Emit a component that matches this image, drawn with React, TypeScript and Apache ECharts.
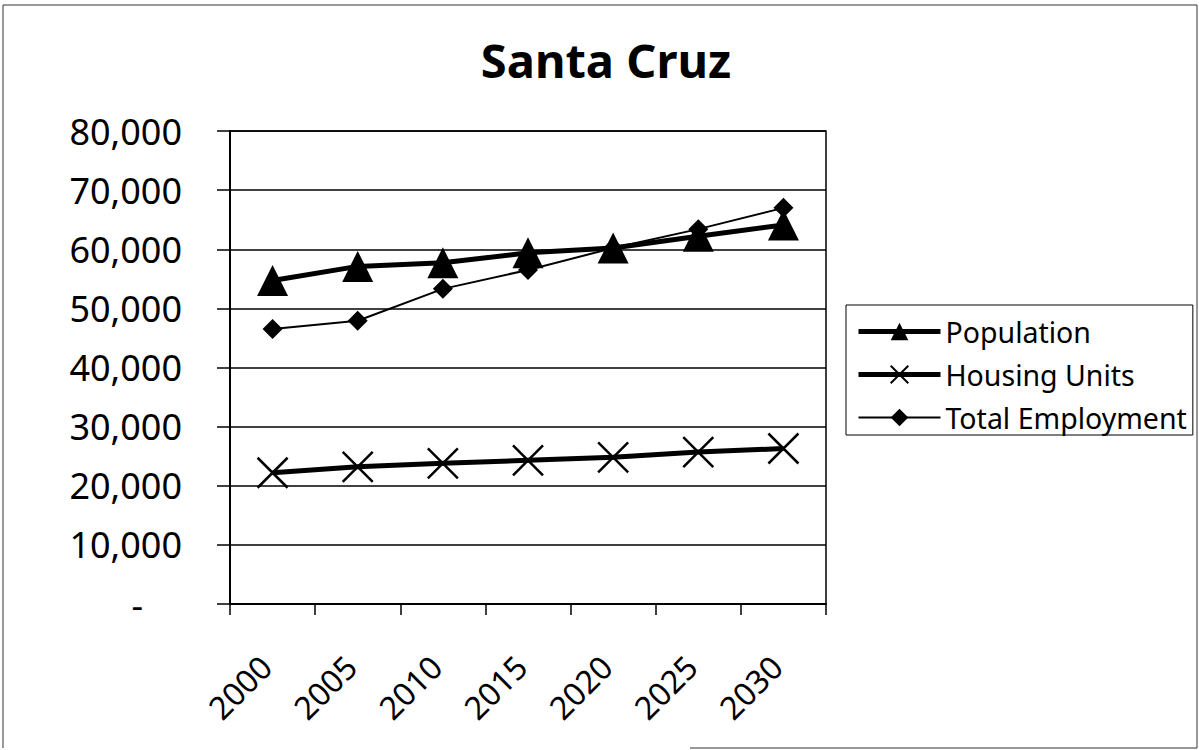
import React, { useEffect, useRef } from "react";
import * as echarts from "echarts";

const categories = ["2000", "2005", "2010", "2015", "2020", "2025", "2030"];
const population = [54700, 57100, 57700, 59400, 60200, 62200, 64100];
const housingUnits = [22200, 23200, 23800, 24300, 24800, 25700, 26300];
const totalEmployment = [46500, 47900, 53300, 56500, 60200, 63400, 67000];
const yTicks = { min: 0, max: 80000, interval: 10000 };

const FONT = "Noto Sans";
const X_PATH = "path://M0,0L10,10M10,0L0,10";

export default function App() {
  const ref = useRef<HTMLDivElement>(null);
  useEffect(() => {
    if (!ref.current) return;
    const chart = echarts.init(ref.current, undefined, { renderer: "svg" });
    chart.setOption({
      animation: false,
      backgroundColor: "#fff",
      textStyle: { fontFamily: FONT, color: "#000" },
      graphic: [
        {
          type: "text",
          x: 606,
          y: 60,
          style: {
            text: "Santa Cruz",
            align: "center",
            verticalAlign: "middle",
            fontFamily: FONT,
            fontWeight: "bold",
            fontSize: 47,
            fill: "#000",
          },
        },
        { type: "line", shape: { x1: 3, y1: 5, x2: 1197, y2: 5 }, style: { stroke: "#333", lineWidth: 1 } },
        { type: "line", shape: { x1: 3, y1: 5, x2: 3, y2: 748 }, style: { stroke: "#333", lineWidth: 1 } },
        { type: "line", shape: { x1: 1197, y1: 5, x2: 1197, y2: 748 }, style: { stroke: "#333", lineWidth: 1 } },
        { type: "line", shape: { x1: 690, y1: 748, x2: 1197, y2: 748 }, style: { stroke: "#333", lineWidth: 1 } },
      ],
      grid: {
        left: 230,
        right: 373,
        top: 131,
        bottom: 146,
        show: true,
        borderColor: "#000",
        borderWidth: 1.5,
      },
      legend: {
        orient: "vertical",
        left: 846,
        top: 305,
        padding: [12, 6, 3, 10],
        itemWidth: 82,
        itemHeight: 22,
        itemGap: 14,
        borderColor: "#000",
        borderWidth: 1,
        textStyle: { fontFamily: FONT, fontSize: 28.5, color: "#000" },
        data: [
          { name: "Population", lineStyle: { width: 5 } },
          { name: "Housing Units", lineStyle: { width: 5 } },
          { name: "Total Employment", lineStyle: { width: 2 } },
        ],
      },
      xAxis: {
        type: "category",
        data: categories,
        boundaryGap: true,
        axisLine: { lineStyle: { color: "#000", width: 2 } },
        axisTick: { show: true, length: 11, lineStyle: { color: "#000", width: 1.5 } },
        axisLabel: {
          rotate: 45,
          fontFamily: FONT,
          fontSize: 32,
          color: "#000",
          margin: 50,
          padding: [0, 10, 0, 0],
        },
        splitLine: { show: false },
      },
      yAxis: {
        type: "value",
        min: yTicks.min,
        max: yTicks.max,
        interval: yTicks.interval,
        axisLine: { show: true, lineStyle: { color: "#000", width: 2 } },
        axisTick: { show: true, length: 13, lineStyle: { color: "#000", width: 1.5 } },
        splitLine: { show: true, lineStyle: { color: "#000", width: 1.5 } },
        axisLabel: {
          fontFamily: FONT,
          fontSize: 36,
          color: "#000",
          margin: 48,
          formatter: (v: number) =>
            v === 0 ? "{d|-}" : v.toLocaleString("en-US"),
          rich: {
            d: { fontFamily: FONT, fontSize: 36, color: "#000", padding: [0, 39, 0, 0] },
          },
        },
      },
      series: [
        {
          name: "Population",
          type: "line",
          data: population,
          symbol: "triangle",
          symbolSize: 31,
          lineStyle: { color: "#000", width: 5 },
          itemStyle: { color: "#000" },
        },
        {
          name: "Housing Units",
          type: "line",
          data: housingUnits,
          symbol: X_PATH,
          symbolSize: 30,
          lineStyle: { color: "#000", width: 5 },
          itemStyle: { color: "#000", borderColor: "#000", borderWidth: 2.5 },
        },
        {
          name: "Total Employment",
          type: "line",
          data: totalEmployment,
          symbol: "diamond",
          symbolSize: 20,
          lineStyle: { color: "#000", width: 2 },
          itemStyle: { color: "#000" },
        },
      ],
    });
    return () => chart.dispose();
  }, []);
  return (
    <div
      ref={ref}
      style={{ position: "fixed", left: 0, top: 0, width: 1199, height: 750, background: "#fff" }}
    />
  );
}
